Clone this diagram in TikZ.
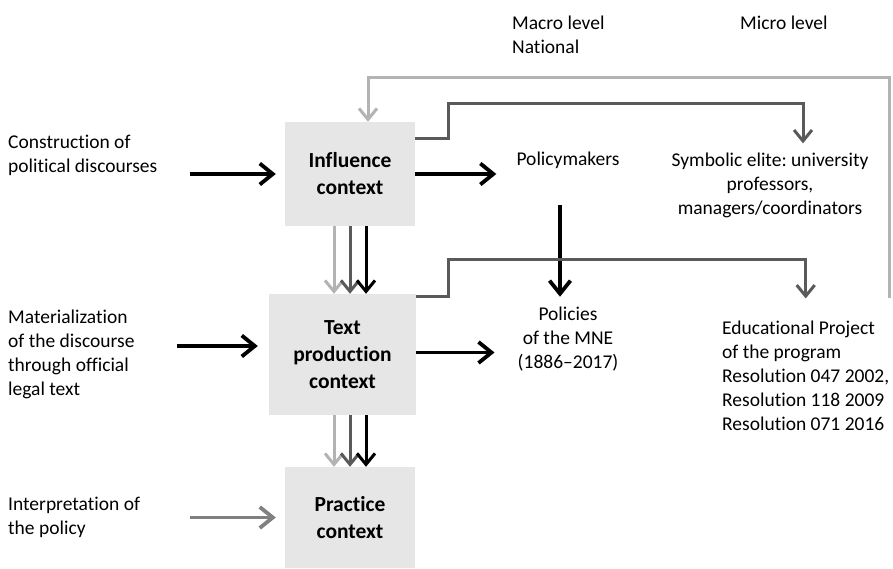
\documentclass[tikz,border=0pt]{standalone}
\usepackage{fontspec}
\setmainfont{Carlito}[Ligatures=NoCommon]
\usepackage{xcolor}
\usetikzlibrary{positioning,arrows.meta,calc}
\frenchspacing

\definecolor{boxgray}{HTML}{E6E6E6}
\definecolor{lightline}{HTML}{B3B3B3}
\definecolor{darkline}{HTML}{5A5A5A}
\definecolor{midline}{HTML}{808080}

\begin{document}
\begin{tikzpicture}[x=1pt, y=-1pt,
    % Style definitions
    context/.style={rectangle, fill=boxgray, align=center, inner sep=0pt, font=\fontsize{21.5}{27}\selectfont\bfseries},
    note/.style={align=left, inner sep=0pt, font=\fontsize{19.5}{24}\selectfont},
    centernote/.style={note, align=center},
    arrow/.style={-{Straight Barb[length=13pt,width=21pt]}, line width=3.8pt},
    triple/.style={-{Straight Barb[length=11pt,width=18pt]}, line width=3pt},
    elbow/.style={-{Straight Barb[length=11pt,width=18pt]}, line width=3pt, draw=darkline},
    feedback/.style={-{Straight Barb[length=11pt,width=18pt]}, line width=3pt, draw=lightline}
]
\useasboundingbox (0,0) rectangle (893,568);

% Context boxes
\node[context, minimum width=130pt, minimum height=104pt] (infl) at (350,174) {Influence\\context};
\node[context, minimum width=147pt, minimum height=121pt] (textp) at (342.5,354.5) {Text\\production\\context};
\node[context, minimum width=130pt, minimum height=101pt] (pract) at (350,517.5) {Practice\\context};

% Left side descriptions
\node[note, anchor=west] (cons) at (8,155) {Construction of\\political discourses};
\node[note, anchor=west] (mat) at (8,354) {Materialization\\of the discourse\\through official\\legal text};
\node[note, anchor=west] (interp) at (8,517) {Interpretation of\\the policy};

% Levels
\node[note, anchor=west] (macro) at (512,35) {Macro level\\National};
\node[note, anchor=west] (micro) at (740,23) {Micro level};

% Right side actors and texts
\node[centernote] (pmakers) at (568,160) {Policymakers};
\node[centernote] (elite) at (770,185) {Symbolic elite: university\\professors,\\managers/coordinators};
\node[centernote] (policies) at (568,339) {Policies\\of the MNE\\(1886--2017)};
\node[note, anchor=west] (edu) at (722,375.5) {Educational Project\\of the program\\Resolution 047 2002,\\Resolution 118 2009\\Resolution 071 2016};

% Inputs
\draw[arrow] ([xshift=-95pt]infl.west) -- ([xshift=-9pt]infl.west);
\draw[arrow] ([xshift=-92pt,yshift=8.5pt]textp.west) -- ([xshift=-11pt,yshift=8.5pt]textp.west);
\draw[arrow, draw=midline] ([xshift=-95pt]pract.west) -- ([xshift=-9pt]pract.west);

% Downward flows
\foreach \dx/\col in {-16/lightline, 0/darkline, 16/black} {
    \draw[triple, draw=\col] ([xshift=\dx pt]infl.south) -- ([xshift=\dx pt]infl.south |- textp.north);
    \draw[triple, draw=\col] ([xshift=\dx pt]pract.north |- textp.south) -- ([xshift=\dx pt]pract.north);
}

% Outputs
\draw[arrow] (infl.east) -- ([xshift=-20pt]pmakers.west |- infl.east);
\draw[arrow] ([yshift=2pt]textp.east) -- ([xshift=-23pt,yshift=2pt]policies.west |- textp.east);
\draw[arrow] ([xshift=-8pt,yshift=-36pt]pmakers.south) -- ([xshift=-8pt,yshift=10pt]policies.north);

% Elbows to micro level
\draw[elbow] ([yshift=36pt]infl.east) -- ++(33,0) -- ++(0,-35) -| ([xshift=33pt,yshift=9pt]elite.north);
\draw[elbow] ([yshift=58.5pt]textp.east) -- ++(32,0) -- ++(0,-37) -| ([yshift=22pt]edu.north);

% Feedback loop
\draw[feedback] ([yshift=22pt]edu.north east) -- ++(0,-221) -| ([xshift=18pt]infl.north);

\end{tikzpicture}
\end{document}
